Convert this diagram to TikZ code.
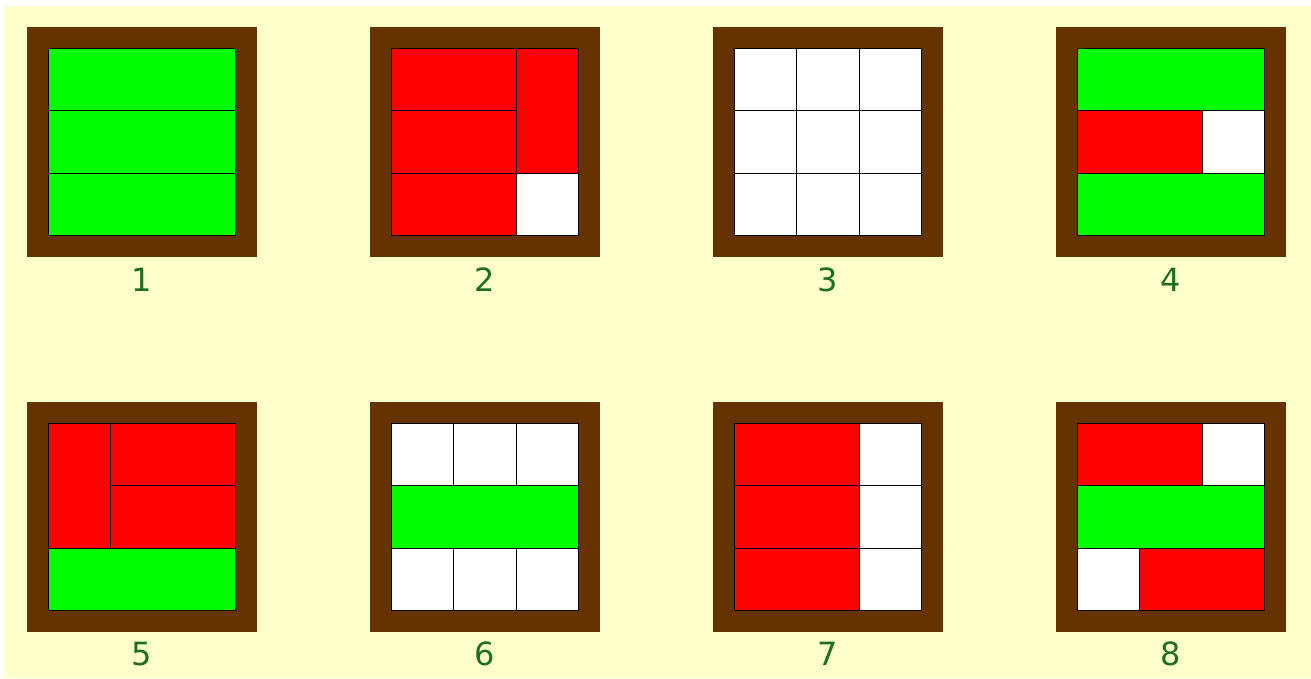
\documentclass[tikz,border=0pt]{standalone}
\usepackage{fontspec}
\setmainfont{DejaVu Sans}
\definecolor{paper}{RGB}{255,255,204}
\definecolor{woodframe}{RGB}{102,51,0}
\definecolor{tilegreen}{RGB}{0,255,0}
\definecolor{tilered}{RGB}{255,0,0}
\definecolor{numgreen}{RGB}{28,112,28}
% one piece: column, row, width, height (in cells), fill
\newcommand{\piece}[5]{\filldraw[fill=#5,draw=black,line width=1pt] (#1*62.33,#2*62.33) rectangle ++(#3*62.33,#4*62.33);}
\tikzset{
  woodbox/.style={fill=woodframe},
  numlabel/.style={text=numgreen,font=\fontsize{32}{36}\selectfont,inner sep=0pt}
}
\begin{document}
\begin{tikzpicture}[x=1pt,y=-1pt]
\fill[white] (0,0) rectangle (1311,678);
\fill[paper] (4,6) rectangle (1311,678);
\useasboundingbox (0,0) rectangle (1311,678);
% frames and numbers
\foreach \n/\c/\r in {1/0/0,2/1/0,3/2/0,4/3/0,5/0/1,6/1/1,7/2/1,8/3/1}{
  \fill[woodbox] (27+343*\c,27+375*\r) rectangle ++(230,230);
  \node[numlabel] (lab\n) at (142+343*\c,280+374*\r) {\n};
}
% 1
\begin{scope}[shift={(48.5,48.5)}]
\piece{0}{0}{3}{1}{tilegreen}\piece{0}{1}{3}{1}{tilegreen}\piece{0}{2}{3}{1}{tilegreen}
\end{scope}
% 2
\begin{scope}[shift={(391.5,48.5)}]
\piece{0}{0}{2}{1}{tilered}\piece{0}{1}{2}{1}{tilered}\piece{2}{0}{1}{2}{tilered}
\piece{0}{2}{2}{1}{tilered}\piece{2}{2}{1}{1}{white}
\end{scope}
% 3
\begin{scope}[shift={(734.5,48.5)}]
\foreach \i in {0,1,2}{\foreach \j in {0,1,2}{\piece{\i}{\j}{1}{1}{white}}}
\end{scope}
% 4
\begin{scope}[shift={(1077.5,48.5)}]
\piece{0}{0}{3}{1}{tilegreen}\piece{0}{1}{2}{1}{tilered}\piece{2}{1}{1}{1}{white}
\piece{0}{2}{3}{1}{tilegreen}
\end{scope}
% 5
\begin{scope}[shift={(48.5,423.5)}]
\piece{0}{0}{1}{2}{tilered}\piece{1}{0}{2}{1}{tilered}\piece{1}{1}{2}{1}{tilered}
\piece{0}{2}{3}{1}{tilegreen}
\end{scope}
% 6
\begin{scope}[shift={(391.5,423.5)}]
\foreach \i in {0,1,2}{\piece{\i}{0}{1}{1}{white}\piece{\i}{2}{1}{1}{white}}
\piece{0}{1}{3}{1}{tilegreen}
\end{scope}
% 7
\begin{scope}[shift={(734.5,423.5)}]
\foreach \j in {0,1,2}{\piece{0}{\j}{2}{1}{tilered}\piece{2}{\j}{1}{1}{white}}
\end{scope}
% 8
\begin{scope}[shift={(1077.5,423.5)}]
\piece{0}{0}{2}{1}{tilered}\piece{2}{0}{1}{1}{white}\piece{0}{1}{3}{1}{tilegreen}
\piece{0}{2}{1}{1}{white}\piece{1}{2}{2}{1}{tilered}
\end{scope}
\end{tikzpicture}
\end{document}
